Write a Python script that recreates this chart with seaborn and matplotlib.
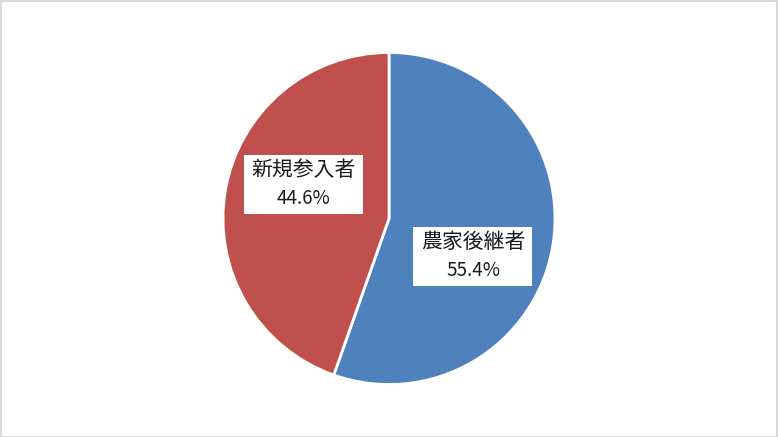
import matplotlib
matplotlib.use('Agg')
import matplotlib.pyplot as plt
from matplotlib.patches import Rectangle
import seaborn as sns

# Data
categories = ['農家後継者', '新規参入者']
shares = [55.4, 44.6]
colors = ['#4F81BD', '#C0504D']

sns.set_theme(style='white')
plt.rcParams['font.family'] = ['Noto Sans CJK JP', 'DejaVu Sans']

fig = plt.figure(figsize=(7.78, 4.37), dpi=100)
fig.patch.set_facecolor('white')

ax = fig.add_axes([0, 0, 1, 1])
wedges, _ = ax.pie(shares, colors=colors, startangle=90, counterclock=False,
                   wedgeprops=dict(edgecolor='white', linewidth=2))

# pie radius = 166 px, centre at (389, 218.5) px -> 1 data unit = 166 px
r_px = 166
ax.set_xlim(-389 / r_px, (778 - 389) / r_px)
ax.set_ylim(-(437 - 218.5) / r_px, 218.5 / r_px)
ax.set_aspect('auto')

# label box centres (data units, relative to pie centre)
label_pos = [(0.506, -0.226), (-0.515, 0.205)]
box_w, box_h = 119 / r_px, 59 / r_px
line_off = 14 / r_px
for cat, val, (lx, ly) in zip(categories, shares, label_pos):
    ax.add_patch(Rectangle((lx - box_w / 2, ly - box_h / 2), box_w, box_h,
                           facecolor='white', edgecolor='none', zorder=3))
    ax.text(lx, ly + line_off, cat, ha='center', va='center',
            fontsize=15, color='#1a1a1a', zorder=4)
    ax.text(lx, ly - line_off, f'{val:.1f}%', ha='center', va='center',
            fontsize=13.5, color='#1a1a1a', zorder=4)

# light grey frame round the chart area
fig.add_artist(Rectangle((0.001, 0.001), 0.998, 0.997, transform=fig.transFigure,
                         facecolor='none', edgecolor='#d9d9d9', linewidth=1.5))

fig.savefig('out.png', dpi=100, facecolor='white')
